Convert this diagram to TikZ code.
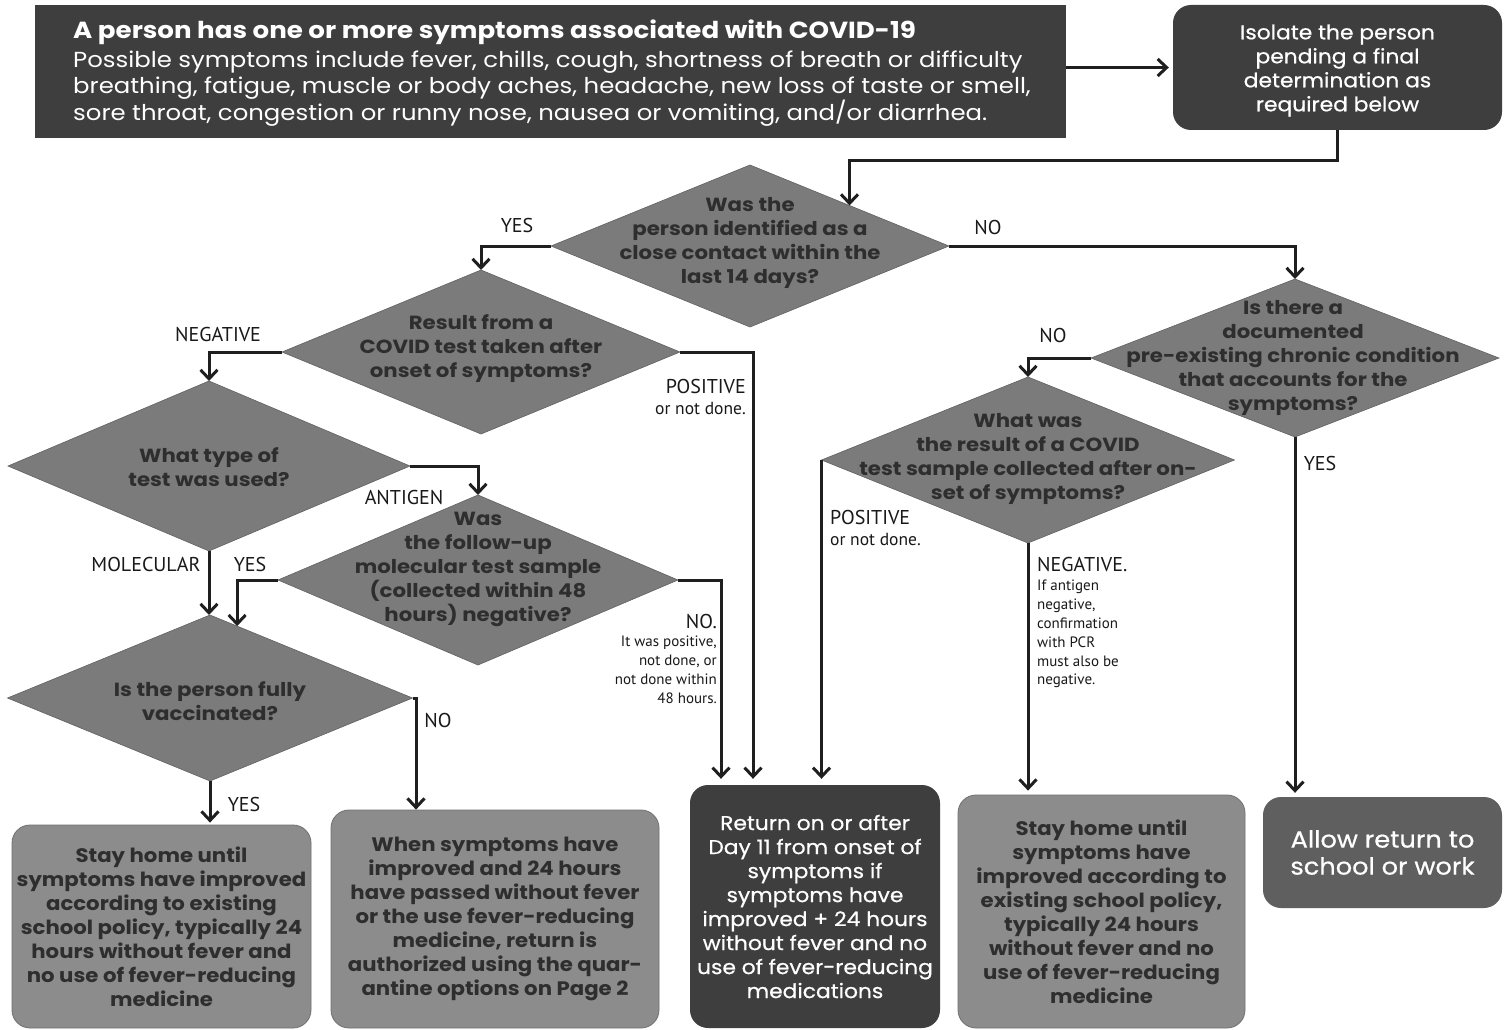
\documentclass[tikz,border=0pt]{standalone}
\usepackage{fontspec}
\setmainfont{Poppins}
\newfontfamily\hdrfont[FakeStretch=1.12]{Poppins}
\newfontfamily\boxfont[FakeStretch=1.09]{Poppins}
\newfontfamily\wfont[FakeStretch=1.09,FakeBold=0.6]{Poppins}
\newfontfamily\qfont[FakeStretch=1.12]{Poppins}
\newfontfamily\lab{PT Sans}
\usetikzlibrary{shapes.geometric,arrows.meta,calc}
\definecolor{darkbox}{HTML}{3E3E3E}
\definecolor{diag}{HTML}{7B7B7B}
\definecolor{qcol}{HTML}{2E2E2E}
\definecolor{midbox}{HTML}{8C8C8C}
\definecolor{allowbox}{HTML}{5F5F5F}
\begin{document}
\begin{tikzpicture}[x=1pt,y=-1pt,
  arr/.style={draw=black!88, line width=3pt, -{Straight Barb[length=9pt,width=17pt]}},
  dia/.style={diamond, fill=diag, draw=diag!80!black, line width=0.6pt, inner sep=0pt, outer sep=0pt},
  qt/.style={align=center, text=qcol, font=\qfont\fontsize{19}{24}\selectfont\bfseries, inner sep=0pt},
  dbox/.style={fill=darkbox, text=white, align=center, rounded corners=18pt, inner sep=0pt,
    font=\wfont\fontsize{20}{24}\selectfont},
  gbox/.style={fill=midbox, draw=midbox!80!black, line width=0.8pt, text=qcol, align=center, rounded corners=18pt, inner sep=0pt,
    font=\boxfont\fontsize{19.5}{24}\selectfont\bfseries},
  lbl/.style={font=\lab\fontsize{20}{22}\selectfont, text=black!90, inner sep=0pt},
  lbm/.style={font=\lab\fontsize{17.5}{22}\selectfont, text=black!90, inner sep=0pt},
  sm/.style={font=\lab\fontsize{15}{18.8}\selectfont, text=black!90, inner sep=0pt}
]
\useasboundingbox (0,0) rectangle (1509,1030);
\fill[white] (0,0) rectangle (1509,1030);

% header
\node[fill=darkbox, minimum width=1031pt, minimum height=133pt, inner sep=0pt] (hdr) at (550.5,71.5) {};
\node[text=white, align=left, inner sep=0pt, anchor=west, font=\hdrfont\fontsize{21.75}{26}\selectfont] (hdrt) at (73,73)
  {{\fontsize{23.3}{28}\selectfont\bfseries A person has one or more symptoms associated with COVID-19}\\[3pt]
   Possible symptoms include fever, chills, cough, shortness of breath or difficulty\\
   breathing, fatigue, muscle or body aches, headache, new loss of taste or smell,\\
   sore throat, congestion or runny nose, nausea or vomiting, and/or diarrhea.};

\node[dbox, minimum width=329pt, minimum height=125pt] (iso) at (1337.5,67.5) {};
\node[dbox, fill=none] (isot) at (1337.5,70.5)
  {Isolate the person\\pending a final\\determination as\\required below};

% diamonds
\node[dia, minimum width=398pt, minimum height=162pt] (d1) at (750,246) {};
\node[qt] (d1t) at (750,243) {Was the\\person identified as a\\close contact within the\\last 14 days?};
\node[dia, minimum width=398pt, minimum height=164pt] (d2) at (481,352) {};
\node[qt] (d2t) at (481,349) {Result from a\\COVID test taken after\\onset of symptoms?};
\node[dia, minimum width=402pt, minimum height=170pt] (d3) at (209,466) {};
\node[qt] (d3t) at (209,467) {What type of\\test was used?};
\node[dia, minimum width=400pt, minimum height=170pt] (d4) at (478,580) {};
\node[qt] (d4t) at (478,569) {Was\\the follow-up\\molecular test sample\\(collected within 48\\hours) negative?};
\node[dia, minimum width=405pt, minimum height=166pt] (d5) at (210,698) {};
\node[qt] (d5t) at (210,701) {Is the person fully\\vaccinated?};
\node[dia, minimum width=408pt, minimum height=158pt] (d6) at (1295,358) {};
\node[qt] (d6t) at (1293,358) {Is there a\\documented\\pre-existing chronic condition\\that accounts for the\\symptoms?};
\node[dia, minimum width=413pt, minimum height=166pt] (d7) at (1028,460) {};
\node[qt] (d7t) at (1028,459) {What was\\the result of a COVID\\test sample collected after on-\\set of symptoms?};

% outcome boxes
\node[gbox, minimum width=299pt, minimum height=203pt] (bA) at (161.5,926.5)
  {Stay home until\\symptoms have improved\\according to existing\\school policy, typically 24\\hours without fever and\\no use of fever-reducing\\medicine};
\node[gbox, minimum width=328pt, minimum height=218pt] (bB) at (495,919)
  {When symptoms have\\improved and 24 hours\\have passed without fever\\or the use fever-reducing\\medicine, return is\\authorized using the quar-\\antine options on Page 2};
\node[dbox, minimum width=250pt, minimum height=243pt] (ret) at (815,906.5)
  {Return on or after\\Day 11 from onset of\\symptoms if\\symptoms have\\improved + 24 hours\\without fever and no\\use of fever-reducing\\medications};
\node[gbox, minimum width=287pt, minimum height=233pt] (bD) at (1101.5,911.5)
  {Stay home until\\symptoms have\\improved according to\\existing school policy,\\typically 24 hours\\without fever and no\\use of fever-reducing\\medicine};
\node[dbox, fill=allowbox, minimum width=239pt, minimum height=111pt, font=\wfont\fontsize{23.5}{27}\selectfont] (bE) at (1382.5,852.5)
  {Allow return to\\school or work};

% connectors
\draw[arr] (hdr.east |- iso.west) -- ([xshift=-4pt]iso.west);
\draw[arr] (iso.south) -- ++(0,30) -| (d1.north east);
\draw[arr] (d1.west) -| (d2.north);
\draw[arr] (d1.east) -| (d6.north);
\draw[arr] (d2.west) -| (d3.north);
\draw[arr, shorten >=6pt] (d2.east) -| ([xshift=-62pt]ret.north);
\draw[arr] (d3.east) -| (d4.north);
\draw[arr] (d3.south) -- (d3.south |- d5.north);
\draw[arr] (d4.west) -| ($(d5.north)!0.134!(d5.east)$);
\draw[arr, shorten >=6pt] (d4.east) -| ([xshift=-94pt]ret.north);
\draw[arr] (d5.east) -| ([xshift=-79pt]bB.north);
\draw[arr, shorten >=2pt] (d5.south) -- (d5.south |- bA.north);
\draw[arr] (d6.west) -| (d7.north);
\draw[arr, shorten >=6pt] (d7.west) -- (d7.west |- ret.north);
\draw[arr, shorten >=4pt] (d7.south) -- (d7.south |- bD.north);
\draw[arr, shorten >=4pt] (d6.south) -- (d6.south |- bE.north);

% labels
\node[lbl] (l1) at (517,225) {YES};
\node[lbl] (l2) at (988,227) {NO};
\node[lbl] (l3) at (218,334) {NEGATIVE};
\node[lbl, anchor=east] (l4) at (746,386) {POSITIVE};
\node[lbm, anchor=east] (l4b) at (746,408) {or not done.};
\node[lbl] (l5) at (404,497) {ANTIGEN};
\node[lbl] (l6) at (146,564) {MOLECULAR};
\node[lbl] (l7) at (250,564) {YES};
\node[lbl, anchor=east] (l8) at (717,621) {NO.};
\node[sm, align=right, anchor=north east] (l8b) at (717,636)
  {It was positive,\\not done, or\\not done within\\48 hours.};
\node[lbl] (l9) at (438,720) {NO};
\node[lbl] (l10) at (244,804) {YES};
\node[lbl] (l11) at (1053,335) {NO};
\node[lbl] (l12) at (1320,463) {YES};
\node[lbl, anchor=west] (l13) at (830,517) {POSITIVE};
\node[lbm, anchor=west] (l13b) at (830,539) {or not done.};
\node[lbl, anchor=west] (l14) at (1037,564) {NEGATIVE.};
\node[sm, align=left, anchor=north west] (l14b) at (1037,580)
  {If antigen\\negative,\\confirmation\\with PCR\\must also be\\negative.};
\end{tikzpicture}
\end{document}
